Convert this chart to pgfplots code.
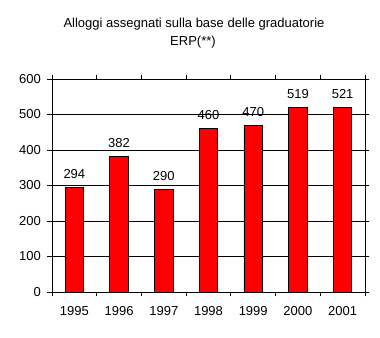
\documentclass[border=0pt]{standalone}
\usepackage{pgfplots}
\pgfplotsset{compat=1.18}
\usepackage{fontspec}
\setmainfont{Liberation Sans}
\begin{document}
\fontsize{13bp}{15.6bp}\selectfont
\begin{tikzpicture}
\path[use as bounding box] (0,0) rectangle (380bp,338bp);
\node[anchor=base,inner sep=0pt] at (194bp,310bp) {Alloggi assegnati sulla base delle graduatorie};
\node[anchor=base,inner sep=0pt] at (193bp,292bp) {ERP(**)};
\begin{axis}[
  at={(52bp,46bp)}, anchor=south west,
  scale only axis, width=313bp, height=213bp,
  xmin=-0.5, xmax=6.5, ymin=0, ymax=600,
  ytick={0,100,...,600},
  xtick={-0.5,0.5,...,6.5},
  x tick label as interval,
  xticklabels={1995,1996,1997,1998,1999,2000,2001},
  /pgf/number format/assume math mode=true,
  tick align=outside,
  major tick length=4.5bp,
  tick style={black, line width=0.8bp},
  ymajorgrids, grid style={black, line width=0.8bp},
  axis line style={black, line width=0.8bp},
  ticklabel style={font=\fontsize{13bp}{15.6bp}\selectfont},
  yticklabel style={inner sep=0pt, xshift=-6.5bp},
  xticklabel style={inner sep=0pt, yshift=-9.5bp},
  ybar, bar width=18.5bp,
  nodes near coords,
  every node near coord/.append style={anchor=base, inner sep=0pt, yshift=9bp, font=\fontsize{13bp}{15.6bp}\selectfont, black},
]
\addplot[fill=red, draw=black, line width=0.8bp] coordinates {
(0,294) (1,382) (2,290) (3,460) (4,470) (5,519) (6,521)};
\end{axis}
\end{tikzpicture}
\end{document}
